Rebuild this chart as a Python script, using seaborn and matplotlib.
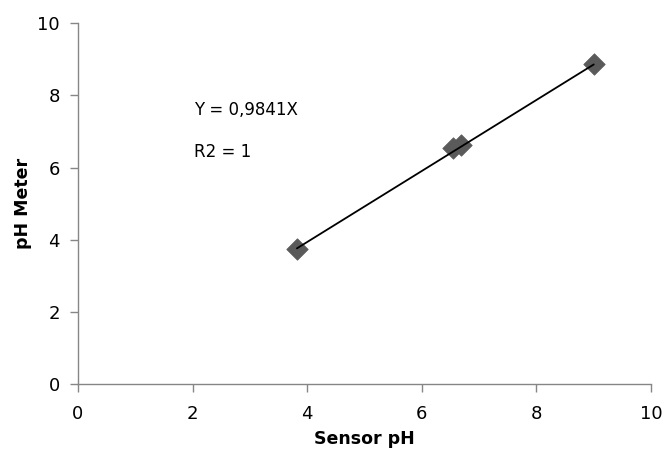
import matplotlib
matplotlib.use("Agg")
import matplotlib.pyplot as plt
import seaborn as sns
import numpy as np
import pandas as pd

sensor_ph = [3.82, 6.55, 6.68, 9.00]
meter_ph = [3.75, 6.54, 6.62, 8.88]
slope = 0.9841
eq_text = "Y = 0,9841X"
r2_text = "R2 = 1"
ticks = [0, 2, 4, 6, 8, 10]

sns.set_theme(style="white")
plt.rcParams['font.family'] = ['DejaVu Sans']

df = pd.DataFrame({"Sensor pH": sensor_ph, "pH Meter": meter_ph})

fig = plt.figure(figsize=(6.63, 4.55), dpi=100)
ax = fig.add_axes([0.1176, 0.156, 0.8644, 0.793])

xs = np.array([min(sensor_ph), max(sensor_ph)])
ax.plot(xs, slope * xs, color="black", lw=1.3, zorder=2)
sns.scatterplot(data=df, x="Sensor pH", y="pH Meter", ax=ax, marker="D",
                s=120, color="#5a5a5a", edgecolor="#5a5a5a", linewidth=0.5, zorder=1)

ax.set_xlim(0, 10)
ax.set_ylim(0, 10)
ax.set_xticks(ticks)
ax.set_yticks(ticks)
ax.tick_params(axis="both", labelsize=13, labelcolor="black", length=6, width=1,
               direction="out", color="#868686", bottom=True, left=True)
ax.tick_params(axis="x", pad=9)
ax.tick_params(axis="y", pad=7)
for s in ["top", "right"]:
    ax.spines[s].set_visible(False)
for s in ["left", "bottom"]:
    ax.spines[s].set_color("#868686")
    ax.spines[s].set_linewidth(1)

ax.set_xlabel("Sensor pH", fontsize=12.5, fontweight="bold", labelpad=5, color="black")
ax.set_ylabel("pH Meter", fontsize=12.5, fontweight="bold", labelpad=4, color="black")

ax.text(2.02, 7.6, eq_text, fontsize=12, va="center", ha="left", color="black")
ax.text(2.02, 6.43, r2_text, fontsize=12, va="center", ha="left", color="black")

fig.savefig("out.png", dpi=100)
